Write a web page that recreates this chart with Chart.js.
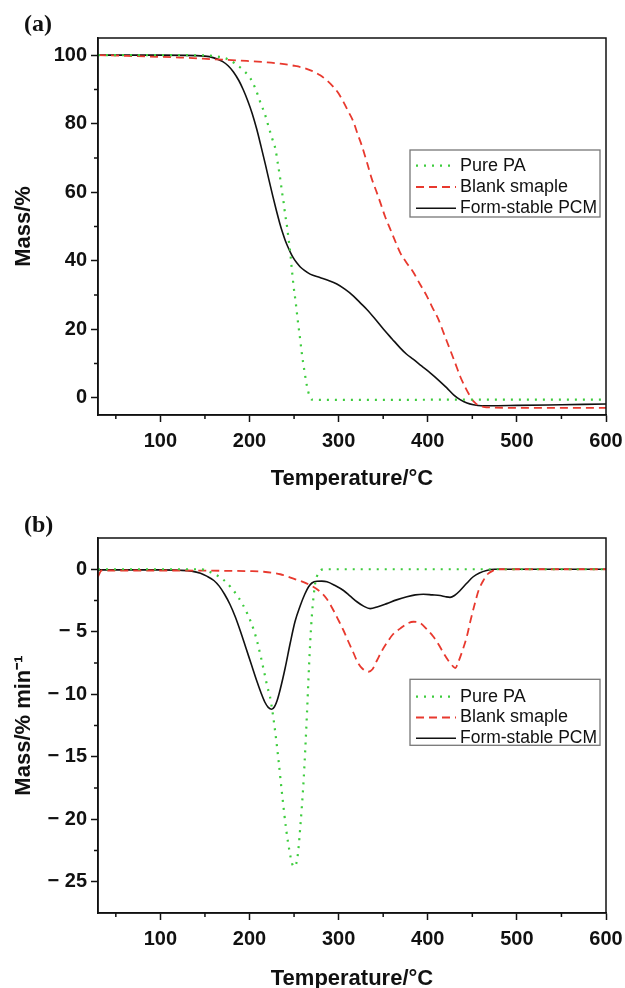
<!DOCTYPE html>
<html>
<head>
<meta charset="utf-8">
<script src="https://cdn.jsdelivr.net/npm/chart.js@4.4.0/dist/chart.umd.min.js"></script>
<style>
html, body { margin: 0; padding: 0; background: #fff; overflow: hidden; }
.panel { position: absolute; left: 0; width: 625px; }
.tag { position: absolute; left: 24px; font: bold 24px/24px "Liberation Serif", "Times New Roman", serif; color: #111; }
</style>
</head>
<body>
<div class="panel" style="top:0;height:494px"><canvas id="tgChart"></canvas></div>
<div class="panel" style="top:494px;height:500px"><canvas id="dtgChart"></canvas></div>
<div class="tag" style="top:11px">(a)</div>
<div class="tag" style="top:512px">(b)</div>
<script>
// axis ticks
const xTicks = [100, 200, 300, 400, 500, 600];
const xMinor = [50, 150, 250, 350, 450, 550];
const tgTicks = [0, 20, 40, 60, 80, 100];
const tgMinor = [10, 30, 50, 70, 90];
const dtgTicks = [-25, -20, -15, -10, -5, 0];
const dtgMinor = [-22.5, -17.5, -12.5, -7.5, -2.5];
const labels = ['Pure PA', 'Blank smaple', 'Form-stable PCM'];

// (a) TG curves, mass %
const tgPureT = [30, 100, 150, 170, 178, 185, 193, 201, 207, 212, 217, 221, 225, 229, 232, 234.5, 236.5, 238.3, 240, 242, 244, 245.7, 247.5, 249.4, 252, 254, 256.5, 258.6, 261.5, 264.5, 267, 270, 280, 350, 440, 600];
const tgPureM = [100, 100, 99.9, 99.3, 98.5, 97.3, 95.6, 93.2, 90, 86.3, 83, 79.5, 76, 72.7, 68, 63.9, 60, 57, 53.5, 50.2, 46, 42.4, 37.5, 32.7, 27.5, 22.9, 17.8, 13.2, 8, 3.4, 0.8, -0.5, -0.6, -0.6, -0.5, -0.5];

const tgBlankT = [30, 60, 100, 122, 160, 197, 220, 234.5, 250, 260.7, 270, 279.4, 287, 294.3, 300, 305.5, 311, 316.7, 321, 326, 332, 337.2, 342, 346.6, 352, 357.8, 363, 369, 376, 384, 391, 399, 405, 412, 418, 425, 431, 436.3, 442, 447.5, 452, 457, 462.4, 470, 500, 600];
const tgBlankM = [100, 99.8, 99.5, 99.3, 98.8, 98.3, 97.9, 97.5, 96.9, 96.3, 95.4, 94.1, 92.6, 90.7, 88.8, 86.3, 83.5, 80.5, 77.2, 73.6, 68.5, 63.9, 60.5, 57.1, 53, 49.3, 46, 42.4, 39.5, 36.6, 33.3, 29.7, 26.5, 22.9, 18.8, 14.1, 10, 6.3, 3.1, 0.5, -1.2, -2.2, -2.6, -2.8, -2.9, -2.9];

const tgPcmT = [30, 100, 150, 160, 170, 176, 182, 188, 193, 198, 203, 208, 213, 218, 222, 226, 230, 234, 237, 240, 243, 246, 249, 253, 257, 262, 268, 279, 288, 298, 307, 316.7, 324, 331.7, 341, 350.4, 360, 369, 376, 384, 393, 402.7, 412, 421.4, 429, 436.3, 444, 451.2, 460, 470, 500, 550, 600];
const tgPcmM = [100, 100, 99.7, 99.2, 98.1, 96.9, 95.1, 92.6, 89.9, 86.7, 83, 78.5, 73.3, 67.9, 63.4, 59, 54.8, 50.9, 48.3, 46, 44.1, 42.4, 40.9, 39.4, 38.2, 37.1, 36.1, 35.1, 34.3, 33.2, 31.7, 29.7, 27.8, 25.8, 23, 20, 17.2, 14.6, 12.8, 11.2, 9.3, 7.3, 5.2, 2.9, 0.9, -0.5, -1.5, -2, -2.3, -2.3, -2.2, -2, -1.8];

// (b) DTG curves, %/min
const dtgPureT = [30, 100, 145, 159.8, 170, 178.5, 188, 197.2, 205, 209, 213, 217, 220, 223, 226, 229, 232.6, 236.4, 241.3, 245, 247.6, 250, 253.3, 255, 257, 260.7, 264.5, 266, 268, 270, 272, 274, 277, 283, 600];
const dtgPureD = [0, 0, 0, -0.35, -0.8, -1.4, -2.3, -3.5, -4.9, -5.9, -7.1, -8.4, -9.4, -10.2, -11.5, -13.1, -15.3, -17.9, -20.9, -22.6, -23.5, -23.8, -23.3, -22.3, -20.6, -16.9, -11.5, -9, -6, -3.7, -2.1, -1, -0.35, 0, 0];

const dtgBlankT = [30, 34, 40, 122, 178.5, 200, 215.8, 234.5, 249.4, 264.5, 279.4, 287, 294.3, 300, 305.5, 311, 316.7, 321, 326, 333.5, 338, 343, 348, 354, 361, 369, 377, 384, 391.5, 399, 406.4, 412, 417.6, 423, 428.8, 431, 434.4, 439, 443.8, 448, 453, 457, 462.4, 467, 473.6, 480, 600];
const dtgBlankD = [-0.6, -0.1, -0.1, -0.1, -0.13, -0.15, -0.2, -0.4, -0.75, -1.15, -1.8, -2.4, -3.3, -4.1, -4.9, -5.8, -6.7, -7.4, -7.9, -8.2, -8, -7.3, -6.6, -5.9, -5.2, -4.75, -4.35, -4.2, -4.3, -4.8, -5.4, -6, -6.7, -7.3, -7.8, -7.9, -7.4, -6.5, -5.4, -4.1, -2.7, -1.7, -0.9, -0.4, -0.1, 0, 0];

const dtgPcmT = [30, 100, 122, 135, 145, 152, 160, 166, 172, 178, 184, 190, 196, 202, 208, 213, 217, 221, 225, 228, 231, 234.5, 240, 245.7, 251, 257, 262, 266.3, 270, 275.7, 281, 286.9, 296, 305.5, 313, 320.5, 328, 335.4, 344, 354, 365, 376.6, 386, 395, 405, 413.9, 420, 425, 430, 436.3, 444, 451, 458, 466, 475, 600];
const dtgPcmD = [-0.05, -0.05, -0.08, -0.15, -0.32, -0.55, -0.9, -1.35, -2, -2.8, -3.8, -5, -6.3, -7.6, -8.9, -9.9, -10.6, -11.05, -11.2, -11, -10.5, -9.6, -7.9, -5.9, -4.2, -2.9, -2, -1.4, -1.1, -0.96, -0.95, -1, -1.3, -1.7, -2.15, -2.6, -2.95, -3.15, -3, -2.75, -2.45, -2.2, -2.05, -2, -2.05, -2.1, -2.2, -2.25, -2.1, -1.7, -1.1, -0.6, -0.3, -0.1, 0, 0];

const INK = '#111';
const GREEN = '#3dcc3d', RED = '#e8392e';
Chart.defaults.font.family = '"Liberation Sans", Arial, sans-serif';
Chart.defaults.color = INK;

function series(label, xs, ys, color, width, dash) {
    return {
        label: label,
        data: xs.map((t, i) => ({ x: t, y: ys[i] })),
        borderColor: color, borderWidth: width, borderDash: dash,
        pointRadius: 0, fill: false, cubicInterpolationMode: 'monotone'
    };
}

// box round the plot, minor ticks and the inset legend
const framePlugin = {
    id: 'frame',
    afterDatasetsDraw(chart, args, opts) {
        const { ctx, chartArea: a, scales: { x, y } } = chart;
        ctx.save();
        ctx.strokeStyle = INK; ctx.lineWidth = 1.5;
        ctx.strokeRect(a.left, a.top, a.right - a.left, a.bottom - a.top);
        ctx.beginPath();
        xMinor.forEach(v => { const px = x.getPixelForValue(v); ctx.moveTo(px, a.bottom); ctx.lineTo(px, a.bottom + 4); });
        opts.yMinor.forEach(v => { const py = y.getPixelForValue(v); ctx.moveTo(a.left, py); ctx.lineTo(a.left - 4, py); });
        ctx.stroke();

        const L = opts.legend;
        ctx.fillStyle = '#fff'; ctx.fillRect(L.x, L.y, L.w, L.h);
        ctx.strokeStyle = '#777'; ctx.lineWidth = 1.3; ctx.strokeRect(L.x, L.y, L.w, L.h);
        ctx.font = '18px "Liberation Sans", Arial, sans-serif';
        ctx.textBaseline = 'middle';
        chart.data.datasets.forEach((ds, i) => {
            const cy = L.y + L.first + i * L.step;
            ctx.save();
            ctx.strokeStyle = ds.borderColor; ctx.lineWidth = ds.borderWidth;
            ctx.setLineDash(ds.borderDash || []);
            ctx.beginPath(); ctx.moveTo(L.x + 6, cy); ctx.lineTo(L.x + 46, cy); ctx.stroke();
            ctx.restore();
            ctx.fillStyle = INK;
            ctx.fillText(ds.label, L.x + 50, cy, L.w - 53);
        });
        ctx.restore();
    }
};

function makeChart(id, datasets, yRange, yTicks, yMinor, yFmt, yTitle, padTop, xHeight, legend) {
    return new Chart(document.getElementById(id), {
        type: 'line',
        data: { datasets: datasets },
        plugins: [framePlugin],
        options: {
            responsive: true, maintainAspectRatio: false, animation: false,
            layout: { padding: { top: padTop, right: 19, left: 0, bottom: 0 } },
            plugins: {
                legend: { display: false }, tooltip: { enabled: false },
                frame: { yMinor: yMinor, legend: legend }
            },
            scales: {
                x: {
                    type: 'linear', min: 30, max: 600,
                    afterBuildTicks: s => { s.ticks = xTicks.map(v => ({ value: v })); },
                    afterFit: s => { s.height = xHeight; s.paddingLeft = 0; s.paddingRight = 0; },
                    ticks: { font: { size: 20, weight: 'bold' }, color: INK, padding: 7, maxRotation: 0, autoSkip: false },
                    grid: { drawOnChartArea: false, drawTicks: true, tickLength: 7, tickColor: INK, tickWidth: 1.5 },
                    border: { color: INK, width: 1.5 },
                    title: { display: true, text: 'Temperature/°C', color: INK, font: { size: 22, weight: 'bold' }, padding: { top: 0, bottom: 2 } }
                },
                y: {
                    type: 'linear', min: yRange[0], max: yRange[1],
                    afterBuildTicks: s => { s.ticks = yTicks.map(v => ({ value: v })); },
                    afterFit: s => { s.width = 98; s.paddingTop = 0; s.paddingBottom = 0; },
                    ticks: { font: { size: 20, weight: 'bold' }, color: INK, padding: 4, callback: yFmt },
                    grid: { drawOnChartArea: false, drawTicks: true, tickLength: 7, tickColor: INK, tickWidth: 1.5 },
                    border: { color: INK, width: 1.5 },
                    title: { display: true, text: yTitle, color: INK, font: { size: 22, weight: 'bold' }, padding: { top: 11, bottom: 0 } }
                }
            }
        }
    });
}

makeChart('tgChart', [
    series(labels[0], tgPureT, tgPureM, GREEN, 2.2, [2, 6]),
    series(labels[1], tgBlankT, tgBlankM, RED, 1.8, [8, 5]),
    series(labels[2], tgPcmT, tgPcmM, INK, 1.6, [])
], [-5, 105], tgTicks, tgMinor, v => String(v), 'Mass/%', 38, 79,
    { x: 410, y: 150, w: 190, h: 67, first: 15.7, step: 21.3 });

makeChart('dtgChart', [
    series(labels[0], dtgPureT, dtgPureD, GREEN, 2.2, [2, 6]),
    series(labels[1], dtgBlankT, dtgBlankD, RED, 1.8, [8, 5]),
    series(labels[2], dtgPcmT, dtgPcmD, INK, 1.6, [])
], [-27.5, 2.5], dtgTicks, dtgMinor, v => v < 0 ? '\u2212 ' + Math.abs(v) : String(v), 'Mass/% min\u207B\u00B9', 44, 81,
    { x: 410, y: 185.3, w: 190, h: 66, first: 17.4, step: 20.8 });
</script>
</body>
</html>
